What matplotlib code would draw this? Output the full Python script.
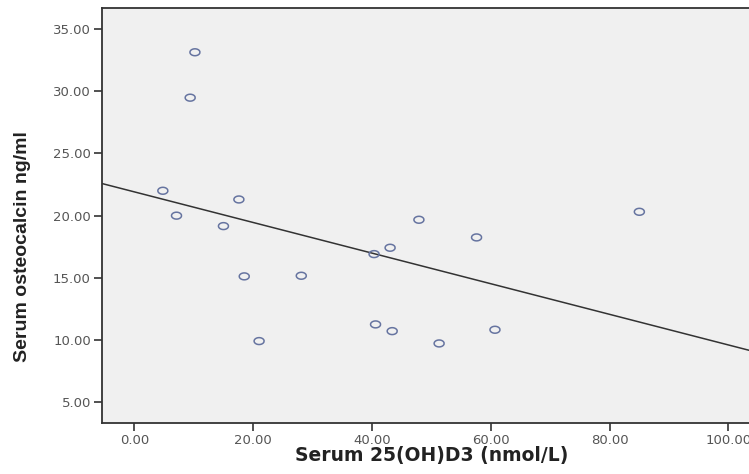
import matplotlib
matplotlib.use("Agg")
import matplotlib.pyplot as plt
import numpy as np

# === DADOS ===
vitd = [10.2, 9.4, 4.8, 7.1, 17.6, 15.0, 18.5, 28.1, 21.0,
        40.6, 43.4, 40.35, 43.05, 47.9, 57.6, 85.0, 51.3, 60.7]
osteo = [33.13, 29.48, 22.0, 20.0, 21.3, 19.16, 15.12, 15.17, 9.92,
         11.26, 10.72, 16.91, 17.42, 19.67, 18.25, 20.31, 9.73, 10.83]
xticks = [0, 20, 40, 60, 80, 100]
yticks = [5, 10, 15, 20, 25, 30, 35]

# marcador eliptico (a imagem original esta esticada na horizontal)
t = np.linspace(0, 2 * np.pi, 40)
elipse = np.column_stack([1.45 * np.cos(t), np.sin(t)])

# === FIGURA ===
fig = plt.figure(figsize=(7.49, 4.74), dpi=100)
ax = fig.add_axes([0.1362, 0.1082, 0.884, 0.875])
ax.set_facecolor("#f0f0f0")

ax.scatter(vitd, osteo, s=52, marker=elipse, facecolors="none",
           edgecolors="#6674a0", linewidths=1.1, zorder=3)

# reta de regressao linear
b, a = np.polyfit(vitd, osteo, 1)
xl = np.array([-5.44, 106])
ax.plot(xl, a + b * xl, color="#333333", lw=1.1, zorder=2)

ax.set_xlim(-5.44, 106)
ax.set_ylim(3.36, 36.69)
ax.set_xticks(xticks)
ax.set_yticks(yticks)
ax.set_xticklabels([f"{v:.2f}" for v in xticks])
ax.set_yticklabels([f"{v:.2f}" for v in yticks])
ax.tick_params(direction="out", length=6, width=1.2, color="#333333",
               labelsize=9.5, labelcolor="#555555", pad=2)
for s in ax.spines.values():
    s.set_color("#333333")
    s.set_linewidth(1.3)

fig.text(432 / 749, 1 - 455 / 474, "Serum 25(OH)D3 (nmol/L)", fontsize=13.5,
         fontweight="bold", family="DejaVu Sans", color="#222222",
         ha="center", va="center")
fig.text(23 / 749, 1 - 247 / 474, "Serum osteocalcin ng/ml", fontsize=14,
         fontweight="bold", family="Liberation Sans", color="#222222",
         rotation=90, ha="center", va="center")

fig.savefig("out.png", dpi=100)
